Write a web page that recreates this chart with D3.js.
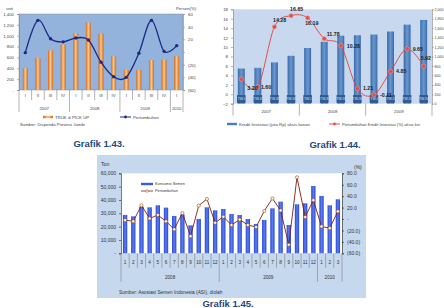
<!DOCTYPE html>
<html>
<head>
<meta charset="utf-8">
<script src="https://cdn.jsdelivr.net/npm/d3@7"></script>
<style>
  body { margin: 0; background: #fff; }
  svg { display: block; }
</style>
</head>
<body>
<script>
// Grafik 1.43 - truk & pick up
const truckQuarters = ["I", "II", "III", "IV", "I", "II", "III", "IV", "I", "II", "III", "IV", "I"];
const truckYears = ["2007", "2008", "2009", "2010"];
const truckYearSpan = [4, 4, 4, 1];
const truckUnits = [400, 590, 730, 840, 1040, 1240, 1040, 620, 370, 370, 550, 560, 620];
const truckGrowth = [-1, 50, 21, 16, 22, 19, -16, -39, -40, -2, 50, 1, 10];

// Grafik 1.44 - kredit investasi
const creditQuarters = ["TW-I", "TW-II", "TW-III", "TW-IV", "TW-I", "TW-II", "TW-III", "TW-IV", "TW-I", "TW-II", "TW-III", "TW-IV"];
const creditYears = ["2007", "2008", "2009"];
const creditYearSpan = [4, 4, 4];
const creditValues = [745, 760, 875, 1015, 1180, 1312, 1440, 1450, 1465, 1530, 1675, 1775];
const creditGrowth = [3.20, 1.60, 14.28, 16.65, 16.19, 11.78, 10.28, 1.21, -0.11, 4.85, 9.65, 5.92];
// where each value label sits next to its point (dx, dy)
const creditLabelOffset = [[6, 8.5], [3, 0.5], [-1.5, -7], [-1, -7], [-2.5, 5.5], [2.5, -4.5], [6, 0], [5.5, -1], [6, 0], [5.5, 0], [5.5, 0], [-3, -8]];

// Grafik 1.45 - konsumsi semen
const cementMonths = ["1", "2", "3", "4", "5", "6", "7", "8", "9", "10", "11", "12",
  "1", "2", "3", "4", "5", "6", "7", "8", "9", "10", "11", "12", "1", "2", "3"];
const cementYears = ["2008", "2009", "2010"];
const cementYearSpan = [12, 12, 3];
const cementTons = [28750, 27750, 35000, 34500, 36000, 34250, 28000, 29000, 21000, 25750, 34500, 32250,
  33250, 29500, 28750, 25750, 22000, 25000, 33750, 38750, 21250, 36750, 37500, 50500, 43000, 36000, 40500];
const cementGrowth = [-2, -4, 24, 1, 7, -4, -18, 10.5, -30, 23.5, 35, -6.5,
  4, -10.5, -1, -10.5, -14, 14, 36, 15, -45, 73, 3.5, 33, -13, -16, 13.5];

const FONT = "'Liberation Sans', Arial, sans-serif";

const svg = d3.select("body").append("svg")
  .attr("width", 444)
  .attr("height", 308)
  .style("font-family", FONT);

const defs = svg.append("defs");
function hGrad(id, edge, mid) {
  const gr = defs.append("linearGradient").attr("id", id)
    .attr("x1", 0).attr("x2", 1).attr("y1", 0).attr("y2", 0);
  gr.append("stop").attr("offset", "0%").attr("stop-color", edge);
  gr.append("stop").attr("offset", "50%").attr("stop-color", mid);
  gr.append("stop").attr("offset", "100%").attr("stop-color", edge);
}
hGrad("gOrange", "#d46a18", "#fac88f");
hGrad("gBlue2", "#3a6cab", "#6a97cf");
hGrad("gBlue3", "#2747d6", "#5a7cf0");

function styleAxis(sel, size, color, stroke) {
  sel.selectAll("text").attr("font-size", size).attr("fill", color).attr("font-family", FONT);
  sel.selectAll("line,path").attr("stroke", stroke).attr("stroke-width", 0.6);
}

function paren(d) {
  if (d === 0) return "-";
  return d < 0 ? "(" + (-d) + ")" : String(d);
}

// separators + labels under a band axis
function categoryAxis(g, x, cats, years, spans, y0, shortLen, longLen, catY, yearY, size, color) {
  const step = x.step();
  const left = x.range()[0];
  const bounds = Array.from(d3.cumsum([0, ...spans]));
  d3.range(cats.length + 1).forEach(i => {
    const isYear = bounds.includes(i);
    g.append("line")
      .attr("x1", left + i * step).attr("x2", left + i * step)
      .attr("y1", y0).attr("y2", y0 + (isYear ? longLen : shortLen))
      .attr("stroke", "#7f7f7f").attr("stroke-width", 0.6);
  });
  if (catY != null) {
    g.selectAll("text.cat").data(cats).join("text")
      .attr("class", "cat")
      .attr("x", (d, i) => x(i) + x.bandwidth() / 2)
      .attr("y", catY)
      .attr("text-anchor", "middle").attr("dominant-baseline", "central")
      .attr("font-size", size).attr("fill", color)
      .text(d => d);
  }
  g.selectAll("text.yr").data(years).join("text")
    .attr("class", "yr")
    .attr("x", (d, i) => left + (bounds[i] + bounds[i + 1]) / 2 * step)
    .attr("y", yearY)
    .attr("text-anchor", "middle").attr("dominant-baseline", "central")
    .attr("font-size", size).attr("fill", color)
    .text(d => d);
}

function caption(text, cx, y) {
  svg.append("text")
    .attr("x", cx).attr("y", y)
    .attr("text-anchor", "middle")
    .attr("font-size", 9.5).attr("font-weight", "bold")
    .attr("fill", "#1f4a80")
    .text(text);
}

// ---------- Grafik 1.43 ----------
(function truckChart() {
  const g = svg.append("g");
  const x = d3.scaleBand().domain(d3.range(truckUnits.length))
    .range([19, 183]).paddingInner(0.6).paddingOuter(0.3);
  const y = d3.scaleLinear().domain([0, 1400]).range([90, 14]);
  const yr = d3.scaleLinear().domain([-60, 60]).range([90, 14]);

  g.append("rect")
    .attr("x", x.range()[0]).attr("y", y.range()[1])
    .attr("width", x.range()[1] - x.range()[0]).attr("height", y.range()[0] - y.range()[1])
    .attr("fill", "#93b3dc").attr("stroke", "#8a8a8a").attr("stroke-width", 0.5);

  g.selectAll("rect.bar").data(truckUnits).join("rect")
    .attr("class", "bar")
    .attr("x", (d, i) => x(i)).attr("y", d => y(d))
    .attr("width", x.bandwidth()).attr("height", d => y(0) - y(d))
    .attr("fill", "url(#gOrange)");

  const line = d3.line()
    .x((d, i) => x(i) + x.bandwidth() / 2)
    .y(d => yr(d))
    .curve(d3.curveCardinal.tension(0));
  g.append("path").datum(truckGrowth)
    .attr("d", line).attr("fill", "none")
    .attr("stroke", "#1b2a84").attr("stroke-width", 1.3);
  g.selectAll("circle.pt").data(truckGrowth).join("circle")
    .attr("class", "pt")
    .attr("cx", (d, i) => x(i) + x.bandwidth() / 2).attr("cy", d => yr(d))
    .attr("r", 1.7).attr("fill", "#1b2a84");

  g.append("g").attr("transform", "translate(19,0)")
    .call(d3.axisLeft(y).tickValues(d3.range(0, 1401, 200)).tickSize(2)
      .tickFormat(d => d === 0 ? "-" : d3.format(",")(d)))
    .call(s => styleAxis(s, 4.3, "#444", "#8a8a8a"));
  g.append("g").attr("transform", "translate(183,0)")
    .call(d3.axisRight(yr).tickValues(d3.range(-60, 61, 20)).tickSize(2).tickFormat(paren))
    .call(s => styleAxis(s, 4.3, "#444", "#8a8a8a"));

  g.append("text").attr("x", 6).attr("y", 10).attr("font-size", 4.3).attr("fill", "#444").text("unit");
  g.append("text").attr("x", 176).attr("y", 10).attr("font-size", 4.3).attr("fill", "#444").text("Persen(%)");

  categoryAxis(g, x, truckQuarters, truckYears, truckYearSpan, 90, 10, 22, 95, 108, 4.3, "#444");

  // legend
  g.append("rect").attr("x", 43).attr("y", 115.8).attr("width", 10).attr("height", 2.4).attr("fill", "url(#gOrange)");
  g.append("text").attr("x", 55).attr("y", 117).attr("dominant-baseline", "central")
    .attr("font-size", 4.3).attr("fill", "#444").text("TRUK & PICK UP");
  g.append("line").attr("x1", 120).attr("x2", 131).attr("y1", 117).attr("y2", 117)
    .attr("stroke", "#1b2a84").attr("stroke-width", 1);
  g.append("circle").attr("cx", 125.5).attr("cy", 117).attr("r", 1.4).attr("fill", "#1b2a84");
  g.append("text").attr("x", 133).attr("y", 117).attr("dominant-baseline", "central")
    .attr("font-size", 4.3).attr("fill", "#444").text("Pertumbuhan");
  g.append("text").attr("x", 20).attr("y", 124).attr("dominant-baseline", "central")
    .attr("font-size", 4.3).attr("fill", "#444").text("Sumber: Dispenda Provinsi Jambi");

  caption("Grafik 1.43.", 99, 147);
})();

// ---------- Grafik 1.44 ----------
(function creditChart() {
  const g = svg.append("g");
  const x = d3.scaleBand().domain(d3.range(creditValues.length))
    .range([233, 432]).paddingInner(0.58).paddingOuter(0.29);
  const yl = d3.scaleLinear().domain([-2, 18]).range([103.7, 9.3]);
  const yr = d3.scaleLinear().domain([0, 2000]).range([103.7, 9.3]);

  g.append("rect")
    .attr("x", x.range()[0]).attr("y", yl.range()[1])
    .attr("width", x.range()[1] - x.range()[0]).attr("height", yl.range()[0] - yl.range()[1])
    .attr("fill", "#c8d9ef");

  g.selectAll("rect.bar").data(creditValues).join("rect")
    .attr("class", "bar")
    .attr("x", (d, i) => x(i)).attr("y", d => yr(d))
    .attr("width", x.bandwidth()).attr("height", d => yr(0) - yr(d))
    .attr("fill", "url(#gBlue2)");

  // quarter labels sit in dark boxes between 0 and -2
  g.selectAll("rect.twbox").data(creditQuarters).join("rect")
    .attr("class", "twbox")
    .attr("x", (d, i) => x(i) - 0.8).attr("y", yl(0) + 0.8)
    .attr("width", x.bandwidth() + 1.6).attr("height", yl(-2) - yl(0) - 1.6)
    .attr("fill", "#2f5a94");
  g.selectAll("text.tw").data(creditQuarters).join("text")
    .attr("class", "tw")
    .attr("x", (d, i) => x(i) + x.bandwidth() / 2)
    .attr("y", (yl(0) + yl(-2)) / 2)
    .attr("text-anchor", "middle").attr("dominant-baseline", "central")
    .attr("font-size", 3.4).attr("fill", "#dfe8f5")
    .text(d => d);

  const cx = i => x(i) + x.bandwidth() / 2;
  const line = d3.line().x((d, i) => cx(i)).y(d => yl(d)).curve(d3.curveCardinal.tension(0));
  g.append("path").datum(creditGrowth)
    .attr("d", line).attr("fill", "none")
    .attr("stroke", "#e0403c").attr("stroke-width", 0.9);
  g.selectAll("circle.pt").data(creditGrowth).join("circle")
    .attr("class", "pt")
    .attr("cx", (d, i) => cx(i)).attr("cy", d => yl(d))
    .attr("r", 2.2).attr("fill", "#e2504b").attr("stroke", "#f3a0a0").attr("stroke-width", 0.5);
  g.selectAll("text.val").data(creditGrowth).join("text")
    .attr("class", "val")
    .attr("x", (d, i) => cx(i) + creditLabelOffset[i][0])
    .attr("y", (d, i) => yl(d) + creditLabelOffset[i][1])
    .attr("dominant-baseline", "central")
    .attr("font-size", 5.3).attr("font-weight", "bold").attr("fill", "#222")
    .text(d => d.toFixed(2));

  g.append("g").attr("transform", "translate(233,0)")
    .call(d3.axisLeft(yl).tickValues(d3.range(-2, 19, 2)).tickSize(2))
    .call(s => styleAxis(s, 4.3, "#444", "#7f7f7f"));
  g.append("g").attr("transform", "translate(432,0)")
    .call(d3.axisRight(yr).tickValues(d3.range(0, 2001, 200)).tickSize(1.5).tickPadding(1)
      .tickFormat(d3.format(",")))
    .call(s => styleAxis(s, 3.6, "#444", "#7f7f7f"));

  categoryAxis(g, x, creditQuarters, creditYears, creditYearSpan, 103.7, 0, 12, null, 111, 4.3, "#444");

  // legend
  g.append("rect").attr("x", 227).attr("y", 122.8).attr("width", 10).attr("height", 2.4).attr("fill", "#4a7ebb");
  g.append("text").attr("x", 239).attr("y", 124).attr("dominant-baseline", "central")
    .attr("font-size", 4.3).attr("fill", "#444").text("Kredit Investasi (juta Rp) aksis kanan");
  g.append("line").attr("x1", 329).attr("x2", 340).attr("y1", 124).attr("y2", 124)
    .attr("stroke", "#e0403c").attr("stroke-width", 0.9);
  g.append("circle").attr("cx", 334.5).attr("cy", 124).attr("r", 1.4).attr("fill", "#e2504b");
  g.append("text").attr("x", 342).attr("y", 124).attr("dominant-baseline", "central")
    .attr("font-size", 4.1).attr("fill", "#444").text("Pertumbuhan Kredit Investasi (%) aksis kiri");

  caption("Grafik 1.44.", 335, 148);
})();

// ---------- Grafik 1.45 ----------
(function cementChart() {
  const g = svg.append("g");
  g.append("rect").attr("x", 97).attr("y", 155).attr("width", 269).attr("height", 143).attr("fill", "#c6d8ee");

  const x = d3.scaleBand().domain(d3.range(cementTons.length))
    .range([121, 342]).paddingInner(0.47).paddingOuter(0.235);
  const y = d3.scaleLinear().domain([0, 60000]).range([253.3, 173.3]);
  const yr = d3.scaleLinear().domain([-60, 80]).range([253.3, 173.3]);

  g.append("rect")
    .attr("x", x.range()[0]).attr("y", y.range()[1])
    .attr("width", x.range()[1] - x.range()[0]).attr("height", y.range()[0] - y.range()[1])
    .attr("fill", "#fff");

  g.selectAll("rect.bar").data(cementTons).join("rect")
    .attr("class", "bar")
    .attr("x", (d, i) => x(i)).attr("y", d => y(d))
    .attr("width", x.bandwidth()).attr("height", d => y(0) - y(d))
    .attr("fill", "url(#gBlue3)");

  const cx = i => x(i) + x.bandwidth() / 2;
  g.append("path").datum(cementGrowth)
    .attr("d", d3.line().x((d, i) => cx(i)).y(d => yr(d)))
    .attr("fill", "none").attr("stroke", "#7e1c1c").attr("stroke-width", 0.9);
  g.selectAll("circle.pt").data(cementGrowth).join("circle")
    .attr("class", "pt")
    .attr("cx", (d, i) => cx(i)).attr("cy", d => yr(d))
    .attr("r", 1.6).attr("fill", "#fff4d2").attr("stroke", "#a0522d").attr("stroke-width", 0.6);

  g.append("g").attr("transform", "translate(121,0)")
    .call(d3.axisLeft(y).tickValues(d3.range(0, 60001, 10000)).tickSize(2)
      .tickFormat(d => d === 0 ? "-" : d3.format(",")(d)))
    .call(s => styleAxis(s, 5, "#333", "#222"));
  g.append("g").attr("transform", "translate(342,0)")
    .call(d3.axisRight(yr).tickValues(d3.range(-60, 81, 20)).tickSize(2)
      .tickFormat(d => d === 0 ? "-" : d < 0 ? "(" + (-d).toFixed(1) + ")" : d.toFixed(1)))
    .call(s => styleAxis(s, 5, "#333", "#222"));

  g.append("text").attr("x", 101).attr("y", 164).attr("dominant-baseline", "central")
    .attr("font-size", 5.2).attr("fill", "#333").text("Ton");
  g.append("text").attr("x", 354).attr("y", 166.5).attr("dominant-baseline", "central")
    .attr("font-size", 5).attr("fill", "#333").text("(%)");

  categoryAxis(g, x, cementMonths, cementYears, cementYearSpan, 253.3, 14.5, 28.5, 262, 277, 4.6, "#333");

  // legend inside plot
  g.append("rect").attr("x", 141).attr("y", 182.8).attr("width", 12).attr("height", 2.4).attr("fill", "#3a5be4");
  g.append("text").attr("x", 155).attr("y", 184).attr("dominant-baseline", "central")
    .attr("font-size", 3.8).attr("fill", "#333").text("Konsumsi Semen");
  g.append("line").attr("x1", 141).attr("x2", 153).attr("y1", 191).attr("y2", 191)
    .attr("stroke", "#7e1c1c").attr("stroke-width", 0.8);
  g.append("circle").attr("cx", 147).attr("cy", 191).attr("r", 1.3)
    .attr("fill", "#fff4d2").attr("stroke", "#a0522d").attr("stroke-width", 0.5);
  g.append("text").attr("x", 155).attr("y", 191).attr("dominant-baseline", "central")
    .attr("font-size", 3.8).attr("fill", "#333").text("Pertumbuhan");

  g.append("text").attr("x", 119).attr("y", 292.7).attr("dominant-baseline", "central")
    .attr("font-size", 4.8).attr("fill", "#333").text("Sumber: Asosiasi Semen Indonesia (ASI), diolah");

  caption("Grafik 1.45.", 228, 307.3);
})();
</script>
</body>
</html>
